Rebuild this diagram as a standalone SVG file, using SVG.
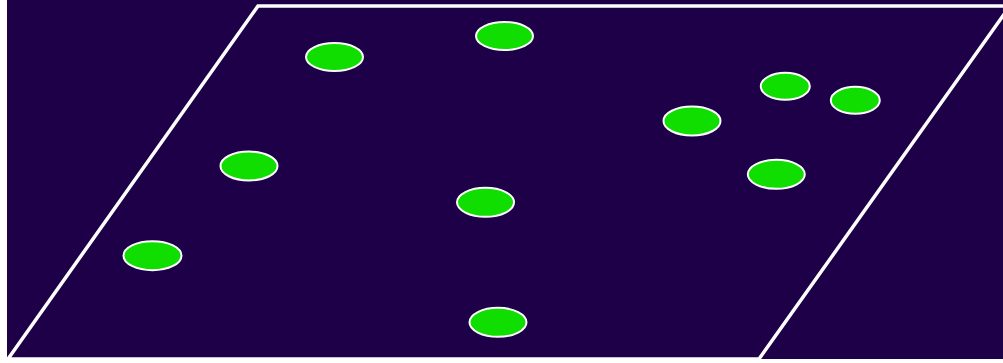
<svg xmlns="http://www.w3.org/2000/svg" width="1003" height="363" viewBox="0 0 1003 363">
<style>
.dot{fill:#10dd00;stroke:#ffffff;stroke-width:2}
.plane{fill:none;stroke:#ffffff;stroke-width:3.5;stroke-linejoin:miter}
</style>
<rect x="0" y="0" width="1003" height="363" fill="#ffffff"/>
<rect x="7" y="0" width="996" height="359" fill="#1d0048"/>
<g id="plane"><polygon class="plane" points="258,6 1010,6 759,359 8,359"/></g>
<g id="connectors"></g>
<g id="n1"><ellipse class="dot" cx="334.5" cy="57" rx="28.5" ry="14"/></g>
<g id="n2"><ellipse class="dot" cx="504.5" cy="36" rx="28.5" ry="14"/></g>
<g id="n3"><ellipse class="dot" cx="692" cy="121" rx="28.5" ry="14.5"/></g>
<g id="n4"><ellipse class="dot" cx="785.3" cy="86.3" rx="24.5" ry="13.5"/></g>
<g id="n5"><ellipse class="dot" cx="855.3" cy="100.3" rx="24.5" ry="13.5"/></g>
<g id="n6"><ellipse class="dot" cx="776.3" cy="174.3" rx="28.5" ry="14.5"/></g>
<g id="n7"><ellipse class="dot" cx="249" cy="166" rx="28.5" ry="14.5"/></g>
<g id="n8"><ellipse class="dot" cx="152.5" cy="255.7" rx="29" ry="14.5"/></g>
<g id="n9"><ellipse class="dot" cx="485.5" cy="202.3" rx="28.5" ry="14.5"/></g>
<g id="n10"><ellipse class="dot" cx="498" cy="322.3" rx="28.5" ry="14.5"/></g>
</svg>
